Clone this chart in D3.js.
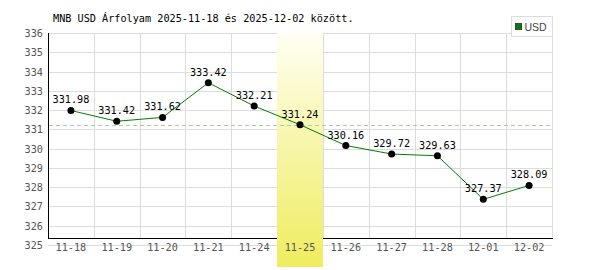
<!DOCTYPE html>
<html><head><meta charset="utf-8">
<script src="https://cdn.jsdelivr.net/npm/d3@7"></script>
<style>body{margin:0;background:#fff}svg{display:block}</style>
</head><body>
<svg id="c" width="600" height="270"></svg>
<script>
const categories = ["11-18","11-19","11-20","11-21","11-24","11-25","11-26","11-27","11-28","12-01","12-02"];
const values = [331.98,331.42,331.62,333.42,332.21,331.24,330.16,329.72,329.63,327.37,328.09];
const yTicks = [325,326,327,328,329,330,331,332,333,334,335,336];
const highlight = "11-25";
const title = "MNB USD Árfolyam 2025-11-18 és 2025-12-02 között.";
const seriesName = "USD";

const svg = d3.select("#c");
const mono = "'DejaVu Sans Mono', monospace";
const L = 48, R = 552, T = 33, B = 245, axisY = 238;

const x = d3.scaleBand().domain(categories).range([L, R]).padding(0);
const y = d3.scaleLinear().domain([325, 336]).range([B, T]);

const defs = svg.append("defs");
const g = defs.append("linearGradient").attr("id","hl").attr("x1",0).attr("y1",0).attr("x2",0).attr("y2",1);
g.append("stop").attr("offset","0%").attr("stop-color","#fffff4");
g.append("stop").attr("offset","40%").attr("stop-color","#f8f7b4");
g.append("stop").attr("offset","100%").attr("stop-color","#efed5e");

// horizontal gridlines
svg.append("g").selectAll("line").data(yTicks).join("line")
  .attr("x1", L).attr("x2", R)
  .attr("y1", d => Math.round(y(d)) + 0.5).attr("y2", d => Math.round(y(d)) + 0.5)
  .attr("stroke", "#dcdcdc").attr("stroke-width", 1);

// vertical gridlines
svg.append("g").selectAll("line").data(categories.slice(1).concat(["__end"])).join("line")
  .attr("x1", (d,i) => Math.round(i < categories.length-1 ? x(d) : R) + 0.5)
  .attr("x2", (d,i) => Math.round(i < categories.length-1 ? x(d) : R) + 0.5)
  .attr("y1", T).attr("y2", axisY)
  .attr("stroke", "#dcdcdc").attr("stroke-width", 1);

// axes lines
svg.append("line").attr("x1", L+0.5).attr("x2", L+0.5).attr("y1", T).attr("y2", axisY+1)
  .attr("stroke", "#000").attr("stroke-width", 1);
svg.append("line").attr("x1", L).attr("x2", R+1).attr("y1", axisY+0.5).attr("y2", axisY+0.5)
  .attr("stroke", "#000").attr("stroke-width", 1);

// highlight band
svg.append("rect")
  .attr("x", Math.round(x(highlight))).attr("y", T)
  .attr("width", Math.round(x.bandwidth())).attr("height", 267 - T)
  .attr("fill", "url(#hl)");

// dashed reference line at highlighted value
const hv = values[categories.indexOf(highlight)];
svg.append("line").attr("x1", L+1).attr("x2", R-2)
  .attr("y1", Math.round(y(hv)) + 0.5).attr("y2", Math.round(y(hv)) + 0.5)
  .attr("stroke", "#a6cfa6").attr("stroke-width", 1).attr("stroke-dasharray", "4,3");

// y tick labels
svg.append("g").selectAll("text").data(yTicks).join("text")
  .attr("x", 43).attr("y", d => y(d) + 4)
  .attr("text-anchor", "end").attr("font-family", mono).attr("font-size", 10.2)
  .attr("fill", "#555").text(d => d);

// x tick labels
svg.append("g").selectAll("text").data(categories).join("text")
  .attr("x", d => x(d) + x.bandwidth()/2).attr("y", 251)
  .attr("text-anchor", "middle").attr("font-family", mono).attr("font-size", 10.2)
  .attr("fill", "#555").text(d => d);

// line
const pts = categories.map((c,i) => [x(c) + x.bandwidth()/2, y(values[i])]);
svg.append("path").attr("d", d3.line()(pts))
  .attr("fill", "none").attr("stroke", "#008000").attr("stroke-width", 1);

// points
svg.append("g").selectAll("circle").data(pts).join("circle")
  .attr("cx", d => d[0]).attr("cy", d => d[1]).attr("r", 3.5).attr("fill", "#000");

// value labels
svg.append("g").selectAll("text").data(values).join("text")
  .attr("x", (d,i) => pts[i][0]).attr("y", (d,i) => pts[i][1] - 7)
  .attr("text-anchor", "middle").attr("font-family", mono).attr("font-size", 10.2)
  .attr("fill", "#000").text(d => d.toFixed(2));

// title
svg.append("text").attr("x", 53).attr("y", 22)
  .attr("font-family", mono).attr("font-size", 10.2).attr("fill", "#000").text(title);

// legend
svg.append("rect").attr("x", 511.5).attr("y", 16.5).attr("width", 41).attr("height", 20)
  .attr("fill", "#fff").attr("stroke", "#dcdcdc");
svg.append("rect").attr("x", 515.5).attr("y", 23.5).attr("width", 6).attr("height", 6)
  .attr("fill", "#008000").attr("stroke", "#444");
svg.append("text").attr("x", 524.5).attr("y", 30.5)
  .attr("font-family", "'Liberation Sans Narrow','Liberation Sans',sans-serif").attr("font-size", 10.5)
  .attr("fill", "#444").text(seriesName);
</script>
</body></html>
